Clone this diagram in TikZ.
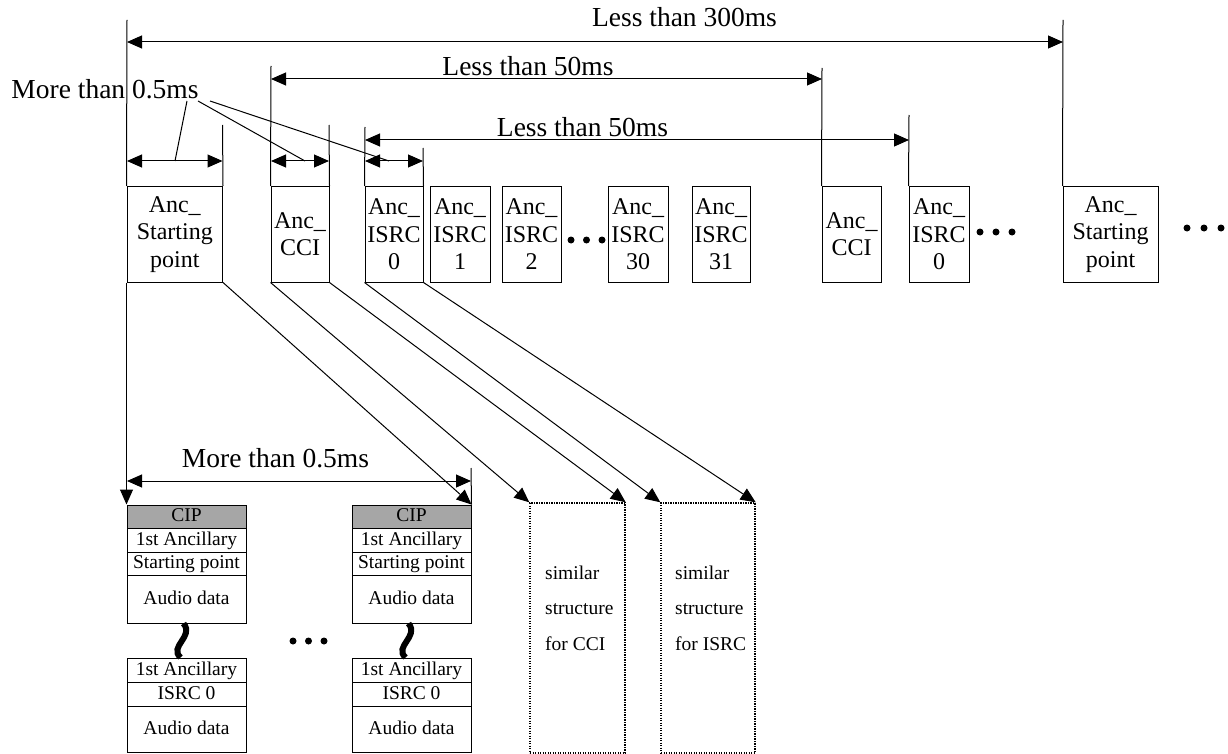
\documentclass[tikz,border=0pt]{standalone}
\usepackage{fontspec}
\setmainfont{Liberation Serif}
\usetikzlibrary{arrows.meta}
\tikzset{
  ln/.style={line width=1pt},
  tipend/.style={line width=1pt,-{Triangle[length=15pt,width=13pt]}},
  dim/.style={line width=1pt,{Triangle[length=15pt,width=13pt]}-{Triangle[length=15pt,width=13pt]}},
  abox/.style={draw, line width=1pt, inner sep=0, align=center, font=\fontsize{24}{27.5}\selectfont, minimum height=95.5},
  lbl/.style={font=\fontsize{27.5}{30}\selectfont, inner sep=0, anchor=base},
  prow/.style={draw, line width=1pt, inner sep=0, minimum width=119, font=\fontsize{19.5}{22}\selectfont, text height=14, text depth=4},
  simbox/.style={draw, line width=1.4pt, dash pattern=on 1.3pt off 1.2pt, minimum width=95, minimum height=250, inner sep=0},
  simtxt/.style={align=left, inner sep=0, anchor=west, font=\fontsize{19.5}{35.5}\selectfont},
  bigdot/.style={circle, fill, inner sep=0, minimum size=7},
  squig/.style={line width=6pt},
}
\begin{document}
\begin{tikzpicture}[x=1pt,y=-1pt]
\useasboundingbox (0,0) rectangle (1228,754);

% top row boxes
\node[abox, minimum width=95.5] (sp1)  at (174.75,234.25) {Anc\_\\Starting\\point};
\node[abox, minimum width=58]   (cci1) at (300,234.25) {Anc\_\\CCI};
\node[abox, minimum width=58]   (is0)  at (394,234.25) {Anc\_\\ISRC\\0};
\node[abox, minimum width=60]   (is1)  at (460,234.25) {Anc\_\\ISRC\\1};
\node[abox, minimum width=59]   (is2)  at (531.5,234.25) {Anc\_\\ISRC\\2};
\node[abox, minimum width=60]   (is30) at (638,234.25) {Anc\_\\ISRC\\30};
\node[abox, minimum width=58]   (is31) at (721,234.25) {Anc\_\\ISRC\\31};
\node[abox, minimum width=59]   (cci2) at (851.5,234.25) {Anc\_\\CCI};
\node[abox, minimum width=60]   (is0b) at (939,234.25) {Anc\_\\ISRC\\0};
\node[abox, minimum width=95]   (sp2)  at (1110.5,234.25) {Anc\_\\Starting\\point};

% dots
\node[bigdot] (da1) at (571,240) {};
\node[bigdot] (da2) at (586.5,240) {};
\node[bigdot] (da3) at (602,240) {};
\node[bigdot] (db1) at (980,232) {};
\node[bigdot] (db2) at (996,232) {};
\node[bigdot] (db3) at (1012,232) {};
\node[bigdot] (dc1) at (1187,228) {};
\node[bigdot] (dc2) at (1204,228) {};
\node[bigdot] (dc3) at (1221,228) {};
\node[bigdot] (dd1) at (293,641) {};
\node[bigdot] (dd2) at (308.5,641) {};
\node[bigdot] (dd3) at (324,641) {};

% vertical extension lines
\coordinate (v1) at (127,20);
\coordinate (v2) at (1063,20);
\coordinate (v3) at (271,66);
\coordinate (v4) at (822,68);
\coordinate (v5) at (365,127);
\coordinate (v6) at (909,115);
\coordinate (v7) at (222.5,125);
\coordinate (v8) at (329,125);
\coordinate (v9) at (423,148);
\coordinate (v10) at (471,468);
\draw[ln] (v1) -- (sp1.north west);
\draw[ln] (v2) -- (sp2.north west);
\draw[ln] (v3) -- (cci1.north west);
\draw[ln] (v4) -- (cci2.north west);
\draw[ln] (v5) -- (is0.north west);
\draw[ln] (v6) -- (is0b.north west);
\draw[ln] (v7) -- (sp1.north east);
\draw[ln] (v8) -- (cci1.north east);
\draw[ln] (v9) -- (is0.north east);

% dimension arrows
\coordinate (a1l) at (127,42);  \coordinate (a1r) at (1063,42);
\coordinate (a2l) at (271,79);  \coordinate (a2r) at (822,79);
\coordinate (a3l) at (365,140); \coordinate (a3r) at (909,140);
\coordinate (s1l) at (127,161); \coordinate (s1r) at (222.5,161);
\coordinate (s2l) at (271,161); \coordinate (s2r) at (329,161);
\coordinate (s3l) at (365,161); \coordinate (s3r) at (423,161);
\coordinate (a4l) at (127,481); \coordinate (a4r) at (471,481);
\draw[dim] (a1l) -- (a1r);
\draw[dim] (a2l) -- (a2r);
\draw[dim] (a3l) -- (a3r);
\draw[dim] (s1l) -- (s1r);
\draw[dim] (s2l) -- (s2r);
\draw[dim] (s3l) -- (s3r);
\draw[dim] (a4l) -- (a4r);

% labels
\node[lbl] (l300) at (684.5,27) {Less than 300ms};
\node[lbl] (l50a) at (528,76) {Less than 50ms};
\node[lbl] (l50b) at (582.5,137) {Less than 50ms};
\node[lbl] (lmt)  at (105,99) {More than 0.5ms};
\node[lbl] (lmb)  at (275.5,467) {More than 0.5ms};

% leaders
\coordinate (q1) at (187,101); \coordinate (e1) at (175,161);
\coordinate (q2) at (198,101); \coordinate (e2) at (305,161);
\coordinate (q3) at (210,101); \coordinate (e3) at (389,161);
\draw[ln] (q1) -- (e1);
\draw[ln] (q2) -- (e2);
\draw[ln] (q3) -- (e3);

% packets
\foreach \p/\x in {p1/186.5, p2/411.5} {
  \node[prow, fill=black!35, minimum height=23] (\p cip) at (\x,516.5) {CIP};
  \node[prow, minimum height=24] (\p anc) at (\x,540) {1st Ancillary};
  \node[prow, minimum height=23] (\p sp) at (\x,563.5) {Starting point};
  \node[prow, minimum height=48] (\p aud) at (\x,599) {Audio data};
  \node[prow, minimum height=24] (\p ancb) at (\x,670) {1st Ancillary};
  \node[prow, minimum height=24] (\p isrc) at (\x,694) {ISRC 0};
  \node[prow, minimum height=46] (\p audb) at (\x,729) {Audio data};
}
\draw[squig] ([xshift=-3]p1aud.south) .. controls +(11,13) and +(-12,-11) .. ([xshift=-6]p1ancb.north);
\draw[squig] ([xshift=-3]p2aud.south) .. controls +(11,13) and +(-12,-11) .. ([xshift=-6]p2ancb.north);

\draw[ln] (v10) -- (p2cip.north east);
\draw[tipend] (sp1.south west) -- (p1cip.north west);
\draw[tipend] (sp1.south east) -- (p2cip.north east);

% similar structure boxes
\node[simbox] (sim1) at (577.5,628) {};
\node[simbox, minimum width=94] (sim2) at (708,628) {};
\node[simtxt] (sim1t) at (545,608) {similar\\structure\\for CCI};
\node[simtxt] (sim2t) at (675,608) {similar\\structure\\for ISRC};

\draw[tipend] (cci1.south west) -- (sim1.north west);
\draw[tipend] (cci1.south east) -- (sim1.north east);
\draw[tipend] (is0.south west) -- (sim2.north west);
\draw[tipend] (is0.south east) -- (sim2.north east);
\end{tikzpicture}
\end{document}
